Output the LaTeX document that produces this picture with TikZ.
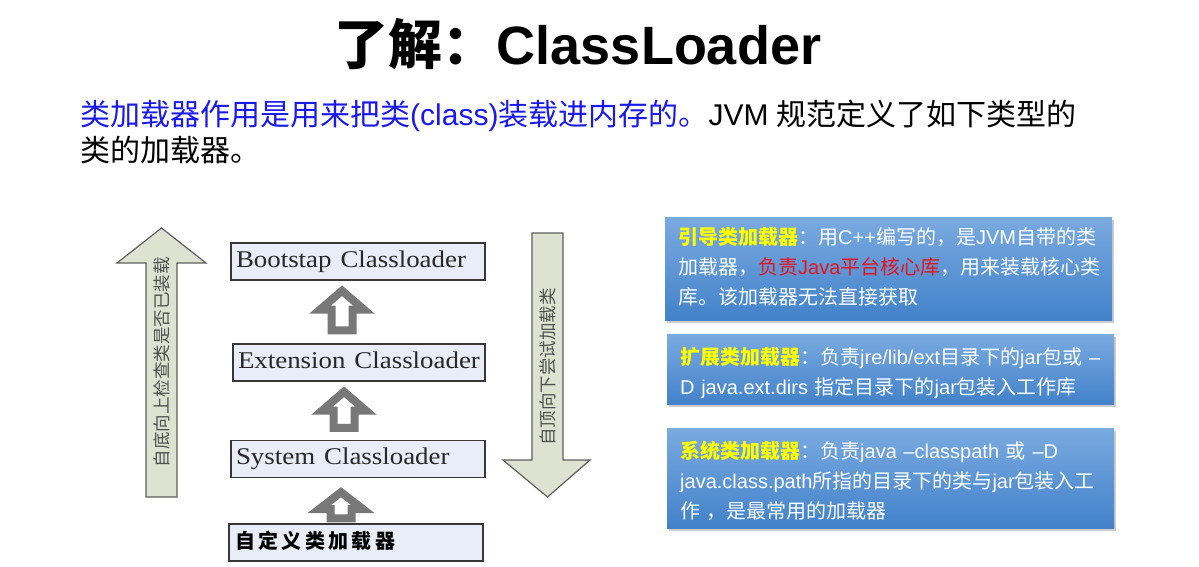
\documentclass[tikz,border=0pt]{standalone}
\usepackage{graphicx}
\usepackage{fontspec}
\setmainfont{Liberation Sans}
\newfontfamily\zh{Noto Sans CJK SC}
\newfontfamily\zhsp{Noto Sans CJK SC}[LetterSpace=17]
\newfontfamily\serifen{Liberation Serif}
\usetikzlibrary{calc,shadows}
\definecolor{subblue}{RGB}{25,25,235}
\definecolor{boxfill}{RGB}{233,237,248}
\definecolor{boxline}{RGB}{55,55,55}
\definecolor{cltext}{RGB}{40,40,40}
\definecolor{hollowgray}{RGB}{120,120,120}
\definecolor{bigfill}{RGB}{221,227,208}
\definecolor{bigline}{RGB}{95,95,95}
\definecolor{vtxt}{RGB}{80,80,80}
\definecolor{infotop}{RGB}{122,170,224}
\definecolor{infobot}{RGB}{66,130,202}
\definecolor{yel}{RGB}{255,255,0}
\definecolor{jred}{RGB}{230,20,30}
\newcommand\Z[1]{{\zh #1}}
\newcommand\hup[6]{% lower, upper, x coordinate, lowgap, topgap, headlen
  \draw[hollow] let \p1=($(#1.north -| #3)+(0,#4)$), \p2=($(#2.south -| #3)+(0,#5)$) in
    (\x1-10.5pt,\y1) -- (\x1+10.5pt,\y1) -- (\x1+10.5pt,\y2-#6pt) -- (\x1+22pt,\y2-#6pt)
    -- (\x1,\y2) -- (\x1-22pt,\y2-#6pt) -- (\x1-10.5pt,\y2-#6pt) -- cycle;}
\begin{document}
\begin{tikzpicture}[x=1pt,y=-1pt,
  cl/.style={draw=boxline, line width=1.4, fill=boxfill, minimum width=254, minimum height=37,
    text width=244, inner xsep=5, inner ysep=0, align=left, text=cltext,
    font=\serifen\fontsize{24}{26}\selectfont, text height=16, text depth=5},
  hollow/.style={draw=hollowgray, line width=8, fill=white, line join=miter},
  bigarrow/.style={draw=bigline, line width=1.2, fill=bigfill},
  vlabel/.style={rotate=90, inner sep=0, text=vtxt, font=\zh\fontsize{17.5}{18}\selectfont},
  info/.style={anchor=north west, minimum width=447, text width=421, inner xsep=13, inner ysep=0,
    align=left, top color=infotop, bottom color=infobot, text=white,
    font=\fontsize{20}{30}\selectfont,
    drop shadow={shadow xshift=1.5pt, shadow yshift=-2.5pt, opacity=.4}}]
\useasboundingbox (0,0) rectangle (1199,567);
\fill[white] (0,0) rectangle (1199,567);

% title and intro
\node[anchor=base, inner sep=0, font=\fontsize{54}{60}\selectfont\bfseries] (title) at (578,65)
  {\Z{了解：}ClassLoader};
\node[anchor=base west, inner sep=0, font=\fontsize{30}{35}\selectfont] (sub1) at (80,126)
  {{\color{subblue}\Z{类加载器作用是用来把类}(class)\Z{装载进内存的。}}JVM \Z{规范定义了如下类型的}};
\node[anchor=base west, inner sep=0, font=\fontsize{30}{35}\selectfont] (sub2) at (80,161)
  {\Z{类的加载器。}};

% big arrows
\draw[bigarrow] (146,497) -- (146,263) -- (117,263) -- (161.5,228) -- (206,263) -- (177,263) -- (177,497) -- cycle;
\node[vlabel] (uptext) at (161.5,362) {自底向上检查类是否已装载};
\draw[bigarrow] (532,233) -- (563,233) -- (563,460) -- (590,460) -- (547.5,497) -- (503,460) -- (532,460) -- cycle;
\node[vlabel] (downtext) at (547.5,367) {自顶向下尝试加载类};

% loader boxes
\node[cl] (boot) at (358,261.5) {\scalebox{1.12}[1]{Bootstap Classloader}};
\node[cl, minimum width=252, text width=242] (ext) at (359,362.5) {\scalebox{1.12}[1]{Extension Classloader}};
\node[cl] (sys) at (358,459) {\scalebox{1.12}[1]{System Classloader}};
\node[cl, text=black, font=\zhsp\bfseries\fontsize{20}{22}\selectfont, inner xsep=6, text width=242] (cust) at (356,542.5) {自定义类加载器};

% hollow arrows
\coordinate (a1) at (342,0);
\coordinate (a2) at (344,0);
\coordinate (a3) at (341,0);
\hup{ext}{boot}{a1}{-13}{10}{19}
\hup{sys}{ext}{a2}{-12}{10}{19}
\hup{cust}{sys}{a3}{-5}{14}{17}

% info boxes
\node[info, minimum height=103] (boxA) at (665,217)
  {\strut{\color{yel}\bfseries\Z{引导类加载器}}\Z{：用}C++\Z{编写的，是}JVM\Z{自带的类}\\
   \strut\Z{加载器，}{\color{jred}\Z{负责}Java\Z{平台核心库}}\Z{，用来装载核心类}\\
   \strut\Z{库。该加载器无法直接获取}};
\node[info, minimum height=70] (boxB) at (667,334)
  {\rule{0pt}{29pt}{\color{yel}\bfseries\Z{扩展类加载器}}\Z{：负责}jre/lib/ext\Z{目录下的}jar\Z{包或}~–\\
   \strut D java.ext.dirs \Z{指定目录下的}jar\Z{包装入工作库}};
\node[info, minimum height=100] (boxC) at (667,428)
  {\rule{0pt}{29pt}{\color{yel}\bfseries\Z{系统类加载器}}\Z{：负责}java –classpath \Z{或}~–D\\
   \strut java.class.path\Z{所指的目录下的类与}jar\Z{包装入工}\\
   \strut\Z{作 ，是最常用的加载器}};
\end{tikzpicture}
\end{document}
